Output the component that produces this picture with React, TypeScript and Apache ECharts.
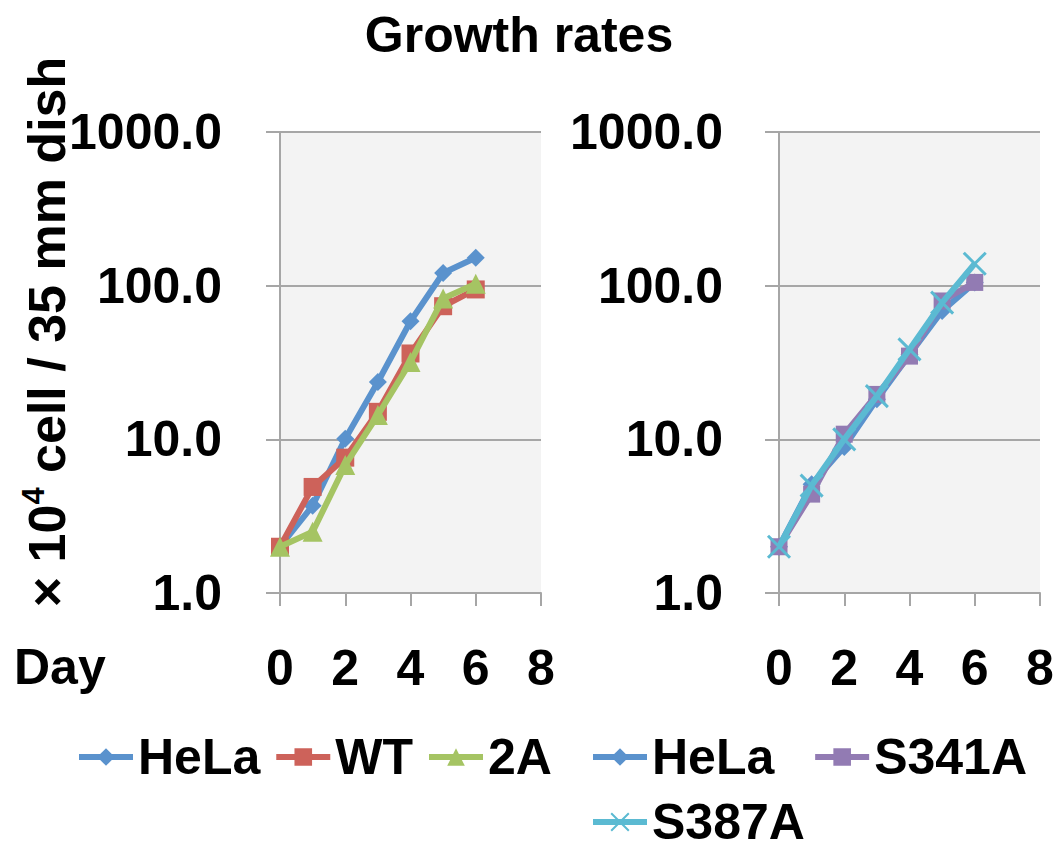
import React, { useEffect, useRef } from "react";
import * as echarts from "echarts";

const days = [0, 1, 2, 3, 4, 5, 6];
const xTickMax = 8;
const leftHela = [2.0, 3.7, 10.1, 23.6, 58.7, 121, 152];
const leftWT = [2.0, 4.9, 7.6, 15.1, 36.2, 73.5, 94.5];
const left2A = [2.0, 2.5, 6.8, 14.4, 31.9, 82.6, 103];
const rightHela = [2.0, 5.1, 8.9, 18.2, 35.5, 68.4, 105];
const rightS341A = [2.0, 4.4, 10.8, 19.6, 34.8, 79.5, 105];
const rightS387A = [2.0, 5.0, 10.0, 19.1, 38.5, 77.5, 139];

const FONT = '"Liberation Sans", Arial, Helvetica, sans-serif';
const BLUE = "#5a92cd";
const RED = "#cd625a";
const GREEN = "#a5c463";
const PURPLE = "#927bb3";
const CYAN = "#5bbad2";
const GRAY = "#a6a6a6";

const pairs = (ys: number[]) => days.map((d, i) => [d, ys[i]]);

export default function App() {
  const ref = useRef<HTMLDivElement>(null);
  useEffect(() => {
    if (!ref.current) return;
    const chart = echarts.init(ref.current, undefined, { renderer: "svg" });

    const xAxisBase = (gridIndex: number) => ({
      type: "value" as const,
      gridIndex,
      min: 0,
      max: xTickMax,
      interval: 2,
      axisLine: { show: true, lineStyle: { color: GRAY, width: 2 } },
      axisTick: { show: true, length: 13, lineStyle: { color: GRAY, width: 2 } },
      splitLine: { show: false },
      axisLabel: {
        margin: 50,
        color: "#000",
        fontSize: 50,
        fontWeight: "bold",
        fontFamily: FONT,
      },
    });
    const yAxisBase = (gridIndex: number, margin: number) => ({
      type: "log" as const,
      gridIndex,
      logBase: 10,
      min: 1,
      max: 1000,
      axisLine: { show: true, lineStyle: { color: GRAY, width: 2 } },
      axisTick: { show: true, length: 14, lineStyle: { color: GRAY, width: 2 } },
      splitLine: { show: true, lineStyle: { color: GRAY, width: 2 } },
      minorTick: { show: false },
      axisLabel: {
        margin,
        color: "#000",
        fontSize: 50,
        fontWeight: "bold",
        fontFamily: FONT,
        formatter: (v: number) => Number(v).toFixed(1),
      },
    });

    const lineSeries = (
      name: string,
      data: number[],
      color: string,
      symbol: string,
      symbolSize: number,
      idx: number,
      extra: any = {}
    ) => ({
      type: "line" as const,
      name,
      xAxisIndex: idx,
      yAxisIndex: idx,
      data: pairs(data),
      symbol,
      symbolSize,
      color,
      lineStyle: { color, width: 6 },
      itemStyle: { color, ...(extra.itemStyle || {}) },
      z: extra.z || 2,
    });

    const legendText = {
      color: "#000",
      fontSize: 50,
      fontWeight: "bold" as const,
      fontFamily: FONT,
    };
    const legendCommon = {
      itemWidth: 54,
      itemHeight: 22,
      textStyle: legendText,
      lineStyle: { width: 6 },
    };

    chart.setOption({
      animation: false,
      backgroundColor: "#fff",
      grid: [
        { left: 280, top: 132, width: 261, height: 461, show: true, backgroundColor: "#f3f3f3", borderWidth: 0 },
        { left: 779, top: 132, width: 261, height: 461, show: true, backgroundColor: "#f3f3f3", borderWidth: 0 },
      ],
      xAxis: [xAxisBase(0), xAxisBase(1)],
      yAxis: [yAxisBase(0, 58), yAxisBase(1, 56)],
      legend: [
        { ...legendCommon, left: 71, top: 727, itemGap: 13, data: ["HeLa", "WT", "2A"] },
        { ...legendCommon, left: 585, top: 727, itemGap: 24, data: ["HeLa ", "S341A"] },
        { ...legendCommon, left: 585, top: 792, itemGap: 13, data: ["S387A"] },
      ],
      graphic: [
        {
          type: "text",
          x: 519,
          y: 35,
          style: {
            text: "Growth rates",
            fill: "#000",
            font: `bold 50px ${FONT}`,
            textAlign: "center",
            textVerticalAlign: "middle",
          },
        },
        {
          type: "text",
          x: 14,
          y: 667,
          style: {
            text: "Day",
            fill: "#000",
            font: `bold 50px ${FONT}`,
            textAlign: "left",
            textVerticalAlign: "middle",
          },
        },
        {
          type: "text",
          x: 47,
          y: 332,
          rotation: Math.PI / 2,
          style: {
            text: "{a|× 10}{s|4}{a| cell / 35 mm dish}",
            fill: "#000",
            align: "center",
            verticalAlign: "middle",
            rich: {
              a: { fontSize: 52, fontWeight: "bold", fontFamily: FONT, lineHeight: 58 },
              s: { fontSize: 31, fontWeight: "bold", fontFamily: FONT, lineHeight: 58, verticalAlign: "top" },
            },
          },
        },
      ],
      series: [
        lineSeries("HeLa", leftHela, BLUE, "diamond", 18, 0, { z: 2 }),
        lineSeries("WT", leftWT, RED, "rect", 18, 0, { z: 3 }),
        lineSeries("2A", left2A, GREEN, "triangle", 20, 0, { z: 4 }),
        lineSeries("HeLa ", rightHela, BLUE, "diamond", 18, 1, { z: 2 }),
        lineSeries("S341A", rightS341A, PURPLE, "rect", 17, 1, { z: 3 }),
        lineSeries("S387A", rightS387A, CYAN, "path://M0,0L20,20M20,0L0,20", 22, 1, {
          z: 4,
          itemStyle: { borderColor: CYAN, borderWidth: 3 },
        }),
      ],
    });
    return () => chart.dispose();
  }, []);
  return (
    <div
      ref={ref}
      style={{ position: "absolute", left: 0, top: 0, width: 1057, height: 854 }}
    />
  );
}
